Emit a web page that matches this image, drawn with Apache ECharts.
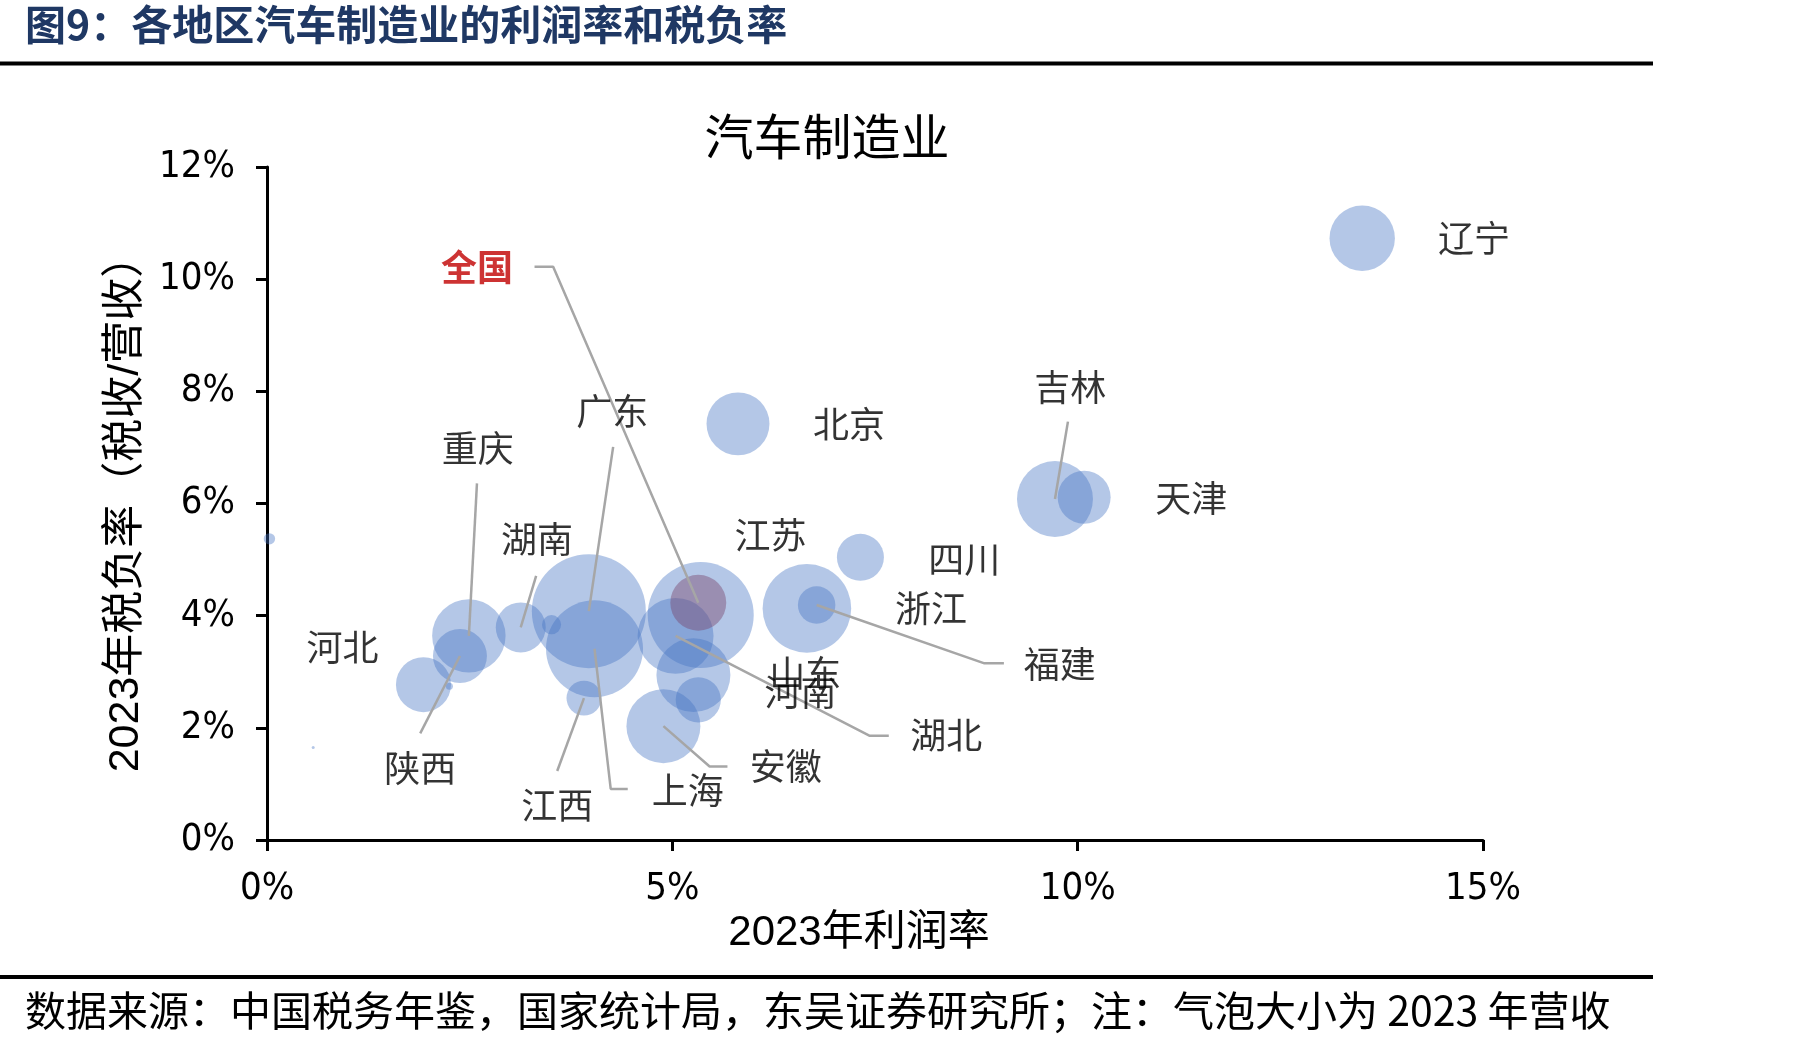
<!DOCTYPE html>
<html>
<head>
<meta charset="utf-8"/>
<style>
  html, body { margin: 0; padding: 0; background: #fff; }
  #main { width: 1807px; height: 1047px; }
</style>
</head>
<body>
<div id="main"></div>
<script src="https://cdn.jsdelivr.net/npm/echarts@6.0.0/dist/echarts.min.js"></script>
<script type="text/javascript">
// 各省份：2023年利润率(%)、税负率(%)、营收(气泡大小，估读)
var regions = ['辽宁','北京','吉林','天津','四川','浙江','福建','江苏','湖北','山东','河南','安徽','广东','上海','江西','湖南','重庆','陕西','河北','','','',''];
var profitRate = [13.51, 5.81, 9.72, 10.08, 7.32, 6.66, 6.78, 5.35, 5.04, 5.26, 5.32, 4.89, 3.97, 4.04, 3.91, 3.13, 2.49, 2.38, 1.93, 3.51, 0.03, 2.25, 0.57];
var taxRate = [10.73, 7.42, 6.08, 6.11, 5.04, 4.13, 4.19, 4.01, 3.64, 2.94, 2.50, 2.03, 4.08, 3.41, 2.53, 3.79, 3.64, 3.28, 2.77, 3.84, 5.37, 2.74, 1.65];
var revenue = [3290, 3050, 4440, 2160, 1700, 6040, 1080, 8650, 4440, 4210, 1570, 4210, 10000, 7240, 940, 1920, 4150, 2240, 2330, 280, 100, 38, 7];

// 全国
var nationProfit = 5.32;
var nationTax = 4.23;
var nationSize = 2410;

// 刻度
var xTicks = [0, 5, 10, 15];
var yTicks = [0, 2, 4, 6, 8, 10, 12];

// 标注文字位置(数据坐标)
var labelNames = ['全国','辽宁','广东','北京','吉林','重庆','天津','湖南','江苏','四川','浙江','河北','福建','山东','河南','湖北','安徽','陕西','上海','江西'];
var labelX = [2.59, 14.89, 4.26, 7.18, 9.91, 2.60, 11.40, 3.33, 6.21, 8.60, 8.19, 0.93, 9.78, 6.64, 6.58, 8.38, 6.40, 1.89, 5.19, 3.58];
var labelY = [10.22, 10.73, 7.65, 7.42, 8.08, 6.99, 6.10, 5.37, 5.44, 5.01, 4.14, 3.43, 3.14, 2.98, 2.64, 1.87, 1.32, 1.27, 0.88, 0.62];

// 引线：从文字端点到气泡中心
var leaders = {
  '全国': [[3.30, 10.22], [3.53, 10.22]],
  '广东': [[4.27, 7.01]],
  '重庆': [[2.59, 6.36]],
  '湖南': [[3.32, 4.71]],
  '陕西': [[1.89, 1.90]],
  '江西': [[3.58, 1.23]],
  '上海': [[4.45, 0.91], [4.24, 0.91]],
  '安徽': [[5.68, 1.31], [5.46, 1.31]],
  '湖北': [[7.67, 1.86], [7.43, 1.86]],
  '福建': [[9.09, 3.15], [8.85, 3.15]],
  '吉林': [[9.88, 7.46]]
};

var cjk = "'Noto Sans CJK SC', sans-serif";
var narrow = "'Liberation Sans Narrow', 'DejaVu Sans Condensed', 'Liberation Sans', sans-serif";

function bubbleSize(v) {
  return 1.14 * Math.sqrt(v);
}

var bubbleData = regions.map(function (n, i) {
  return [profitRate[i], taxRate[i], revenue[i], n];
});

var leaderSeries = Object.keys(leaders).map(function (n) {
  var pts = leaders[n].slice();
  if (n === '全国') {
    pts.push([nationProfit, nationTax]);
  } else {
    var i = regions.indexOf(n);
    pts.push([profitRate[i], taxRate[i]]);
  }
  return {
    type: 'line',
    data: pts,
    symbol: 'none',
    silent: true,
    z: 5,
    lineStyle: { color: '#A6A6A6', width: 2.5 }
  };
});

var labelData = labelNames.map(function (n, i) {
  var item = { value: [labelX[i], labelY[i], n] };
  if (n === '全国') item.label = { color: '#C00000', fontWeight: 'bold' };
  return item;
});

var myChart = echarts.init(document.getElementById('main'));

var options = {
  animation: false,
  backgroundColor: '#fff',
  grid: { left: 267, top: 167, width: 1216, height: 673, outerBoundsMode: 'none' },
  xAxis: {
    type: 'value',
    min: xTicks[0],
    max: xTicks[xTicks.length - 1],
    interval: xTicks[1] - xTicks[0],
    name: '2023年利润率',
    nameLocation: 'middle',
    nameGap: 58,
    nameTextStyle: { fontSize: 42, color: '#000', padding: [0, 32, 0, 0], fontFamily: "'Liberation Sans', 'Noto Sans CJK SC', sans-serif" },
    axisLine: { show: true, lineStyle: { color: '#000', width: 3 } },
    axisTick: { show: true, length: 11, lineStyle: { color: '#000', width: 3 } },
    axisLabel: { formatter: '{value}%', fontSize: 38, color: '#000', margin: 30, fontFamily: narrow },
    splitLine: { show: false }
  },
  yAxis: {
    type: 'value',
    min: yTicks[0],
    max: yTicks[yTicks.length - 1],
    interval: yTicks[1] - yTicks[0],
    name: '2023年税负率（税收/营收）',
    nameLocation: 'middle',
    nameGap: 112,
    nameTextStyle: { fontSize: 43, color: '#000', fontFamily: "'Liberation Sans', 'Noto Sans CJK SC', sans-serif" },
    axisLine: { show: true, lineStyle: { color: '#000', width: 3 } },
    axisTick: { show: true, length: 11, lineStyle: { color: '#000', width: 3 } },
    axisLabel: { formatter: '{value}%', fontSize: 38, color: '#000', margin: 32, fontFamily: narrow },
    splitLine: { show: false }
  },
  graphic: [
    { type: 'text', left: 25, top: 4, style: { text: '图9：各地区汽车制造业的利润率和税负率', font: "bold 41px 'Noto Sans CJK SC'", fill: '#1F3864' } },
    { type: 'rect', shape: { x: 0, y: 61.5, width: 1653, height: 4 }, style: { fill: '#000' } },
    { type: 'text', x: 827, y: 136, style: { text: '汽车制造业', font: "49px 'Noto Sans CJK SC'", fill: '#000', textAlign: 'center', textVerticalAlign: 'middle' } },
    { type: 'rect', shape: { x: 0, y: 975, width: 1653, height: 4 }, style: { fill: '#000' } },
    { type: 'text', x: 25, y: 1010, style: { text: '数据来源：中国税务年鉴，国家统计局，东吴证券研究所；注：气泡大小为 2023 年营收', font: "41px 'Noto Sans CJK SC'", fill: '#000', textVerticalAlign: 'middle' } }
  ],
  series: [
    {
      type: 'scatter',
      data: bubbleData,
      symbolSize: function (v) { return bubbleSize(v[2]); },
      itemStyle: { color: 'rgba(68,114,196,0.5)' },
      z: 2
    },
    {
      type: 'scatter',
      data: [[nationProfit, nationTax, nationSize, '全国']],
      symbolSize: function (v) { return bubbleSize(v[2]); },
      itemStyle: { color: 'rgba(120,70,110,0.55)' },
      z: 3
    }
  ].concat(leaderSeries).concat([
    {
      type: 'scatter',
      data: labelData,
      symbolSize: 0,
      silent: true,
      z: 10,
      label: {
        show: true,
        position: 'inside',
        formatter: function (p) { return p.value[2]; },
        fontSize: 36,
        color: '#000',
        fontFamily: cjk
      }
    }
  ])
};

myChart.setOption(options);
</script>
</body>
</html>
